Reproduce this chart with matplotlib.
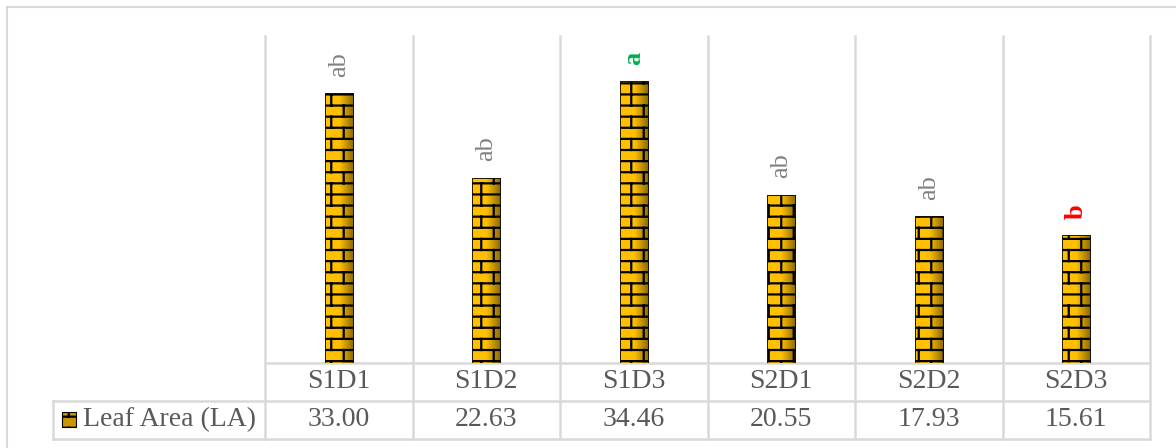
import numpy as np
import matplotlib
matplotlib.use("Agg")
import matplotlib.pyplot as plt
import matplotlib.hatch as mhatch
from matplotlib.path import Path
from matplotlib.patches import Rectangle
from matplotlib.colors import LinearSegmentedColormap

# data
categories = ["S1D1", "S1D2", "S1D3", "S2D1", "S2D2", "S2D3"]
leaf_area = [33.00, 22.63, 34.46, 20.55, 17.93, 15.61]
letters = ["ab", "ab", "a", "ab", "ab", "b"]
letter_colors = ["#808080", "#808080", "#00b050", "#808080", "#808080", "#ff0000"]
letter_weights = ["normal", "normal", "bold", "normal", "normal", "bold"]
series_name = "Leaf Area (LA)"


# brick hatch, hooked onto the "-" hatch character
class BrickHatch(mhatch.HatchPatternBase):
    rows, cols = 9, 4

    def __init__(self, hatch, density):
        on = 1 if "-" in hatch else 0
        # horizontal lines + vertical joints + wrapped joints at tile bottom
        self.num_lines = on * (self.rows + self.rows * self.cols + self.cols)
        self.num_vertices = self.num_lines * 2

    def set_vertices_and_codes(self, vertices, codes):
        h = 1.0 / self.rows
        w = 1.0 / self.cols
        segs = []
        for r in range(self.rows):
            y = r * h + h / 2
            segs.append(((0.0, y), (1.0, y)))
            off = w / 2 if r % 2 else 0.0
            for c in range(self.cols):
                x = c * w + w / 4 + off
                segs.append(((x, y), (x, min(y + h, 1.0))))
        # joints of the last row that wrap to the bottom of the tile
        off = w / 2 if (self.rows - 1) % 2 else 0.0
        for c in range(self.cols):
            x = c * w + w / 4 + off
            segs.append(((x, 0.0), (x, h / 2)))
        vertices[:] = np.array(segs).reshape(-1, 2)
        codes[0::2] = Path.MOVETO
        codes[1::2] = Path.LINETO


mhatch._hatch_types = [BrickHatch if t is mhatch.HorizontalHatch else t
                       for t in mhatch._hatch_types]

plt.rcParams["font.family"] = ["Liberation Serif", "DejaVu Serif"]
plt.rcParams["hatch.linewidth"] = 1.6

W, H = 1176, 448
fig = plt.figure(figsize=(W / 100, H / 100), dpi=100)

# plot area in pixels
left, right, top, bottom = 265, 1150, 36, 363
ax = fig.add_axes([left / W, 1 - bottom / H, (right - left) / W, (bottom - top) / H])

grid = "#d9d9d9"
txt = "#595959"
x = np.arange(len(categories))
bw = 0.19

bars = ax.bar(x, leaf_area, width=bw, color="#ffc000", linewidth=0, zorder=2)
grad = np.linspace(0, 1, 64).reshape(1, -1)
cmap = LinearSegmentedColormap.from_list(
    "gold", [(0, "#ffc000"), (0.5, "#ffc000"), (1, "#8a6800")])
for b in bars:
    x0, w, h = b.get_x(), b.get_width(), b.get_height()
    im = ax.imshow(grad, extent=(x0, x0 + w, 0, h), aspect="auto",
                   cmap=cmap, zorder=3)
    im.set_clip_path(b)
ax.bar(x, leaf_area, width=bw, facecolor="none", edgecolor="black",
       linewidth=0.6, hatch="-", zorder=4)

for xi, v, s, c, fw in zip(x, leaf_area, letters, letter_colors, letter_weights):
    ax.annotate(s, (xi, v), xytext=(0, 12), textcoords="offset points",
                rotation=90, ha="center", va="bottom", color=c,
                fontweight=fw, fontsize=19)

ax.set_xlim(-0.5, len(categories) - 0.5)
ax.set_ylim(0, 40)
for sp in ax.spines.values():
    sp.set_visible(False)
ax.set_xticks([])
ax.set_yticks([])

# data table below the plot
n = len(categories)
ax_h = bottom - top
ax_w = right - left
row_h = 38 / ax_h
leg_left = (53 - left) / ax_w
kw = dict(transform=ax.transAxes, color=grid, lw=1.8, clip_on=False, zorder=1)
for i in range(n + 1):
    ax.plot([i / n, i / n], [1, -2 * row_h], **kw)
ax.plot([0, 1], [0, 0], **kw)
ax.plot([leg_left, 1], [-row_h, -row_h], **kw)
ax.plot([leg_left, 1], [-2 * row_h, -2 * row_h], **kw)
ax.plot([leg_left, leg_left], [-row_h, -2 * row_h], **kw)

for i, (cat, v) in enumerate(zip(categories, leaf_area)):
    xc = (i + 0.5) / n
    ax.text(xc, -0.5 * row_h, cat, transform=ax.transAxes, ha="center",
            va="center", fontsize=20, color=txt)
    ax.text(xc, -1.5 * row_h, f"{v:.2f}", transform=ax.transAxes,
            ha="center", va="center", fontsize=20, color=txt)

key = Rectangle(((62 - left) / ax_w, (bottom - 427) / ax_h), 14 / ax_w, 15 / ax_h,
                transform=ax.transAxes, facecolor="#c89600", edgecolor="black",
                linewidth=0.8, hatch="-", clip_on=False)
ax.add_patch(key)
ax.text((83 - left) / ax_w, -1.5 * row_h, series_name, transform=ax.transAxes,
        ha="left", va="center", fontsize=20, color=txt)

# chart border
fig.patches.append(Rectangle((7 / W, -0.05), 1.1, 1 - 7 / H + 0.05,
                             transform=fig.transFigure, fill=False,
                             edgecolor=grid, linewidth=1.5))

fig.savefig("out.png", dpi=100)
